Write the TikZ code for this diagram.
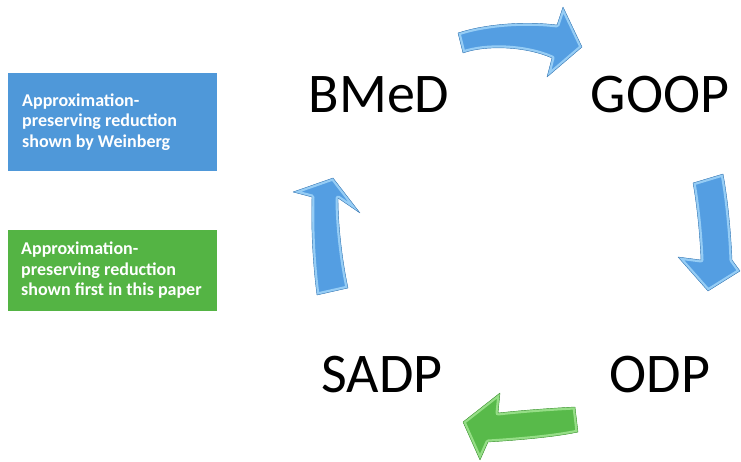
\documentclass[tikz,border=0pt]{standalone}
\usepackage{fontspec}
\setmainfont{Carlito}
\usepackage{tikz}

\definecolor{boxblue}{RGB}{79,152,217}
\definecolor{boxgreen}{RGB}{84,180,68}
\definecolor{arrblue}{RGB}{84,158,226}
\definecolor{arrbluelt}{RGB}{150,205,245}
\definecolor{arrgreen}{RGB}{88,186,74}
\definecolor{arrgreenlt}{RGB}{150,222,135}

\tikzset{
  problem/.style={anchor=base, inner sep=0pt, font=\fontsize{56}{60}\selectfont},
  legendbox/.style={anchor=west, minimum width=209, minimum height=#1, inner sep=0},
  legendtext/.style={anchor=west, inner sep=0, align=left, text=white, font=\bfseries\fontsize{18}{20.5}\selectfont}
}

% block arrow with a light bevel: fill, light rim, dark outline
\newcommand{\bevelarrow}[3]{%
  \fill [#1] #3;
  \begin{scope}
    \clip #3;
    \draw [#2, line width=5pt, line join=round] #3;
  \end{scope}
  \draw [#1!80!black, line width=0.4pt, line join=round] #3;
}

\begin{document}
\begin{tikzpicture}[x=1pt,y=-1pt]
    \useasboundingbox (0,0) rectangle (741,462);

    %Legend boxes
    \node [legendbox=98, fill=boxblue] (weinberg) at (8,122) {};
    \node [legendtext] (weinbergtext) at ([xshift=14]weinberg.west) {Approximation-\\preserving reduction\\shown by Weinberg};
    \node [legendbox=81, fill=boxgreen] (thispaper) at (8,270.5) {};
    \node [legendtext] (thispapertext) at ([xshift=13]thispaper.west) {Approximation-\\preserving reduction\\shown first in this paper};

    % Problem names
    \node [problem] (bmed) at (379,113) {BMeD};
    \node [problem] (goop) at (660,113) {GOOP};
    \node [problem] (sadp) at (382,392) {SADP};
    \node [problem] (odp) at (660,392) {ODP};

    %Shape: Curved arrow BMeD -> GOOP
    \bevelarrow{arrblue}{arrbluelt}{(458,33) .. controls (485,24) and (525,21) .. (557,25) -- (563,7) -- (582,47) -- (547,77) -- (552,58) .. controls (525,46) and (485,45) .. (463,53) -- cycle}

    %Shape: Curved arrow GOOP -> ODP
    \bevelarrow{arrblue}{arrbluelt}{(693,183) -- (723,174) .. controls (728,200) and (731,235) .. (732,260) -- (740,271) -- (708,291) -- (678,257) -- (701,260) .. controls (700,235) and (697,205) .. (693,183) -- cycle}

    %Shape: Curved arrow ODP -> SADP
    \bevelarrow{arrgreen}{arrgreenlt}{(575,407) -- (578,432) .. controls (555,437) and (520,440) .. (488,442) -- (480,460) -- (463,422) -- (500,393) -- (498,413) .. controls (525,410) and (555,408) .. (575,407) -- cycle}

    %Shape: Curved arrow SADP -> BMeD
    \bevelarrow{arrblue}{arrbluelt}{(317,295) -- (348,288) .. controls (342,260) and (338,225) .. (338,198) -- (360,213) -- (333,178) -- (293,192) -- (312,197) .. controls (311,230) and (313,265) .. (317,295) -- cycle}

\end{tikzpicture}
\end{document}
